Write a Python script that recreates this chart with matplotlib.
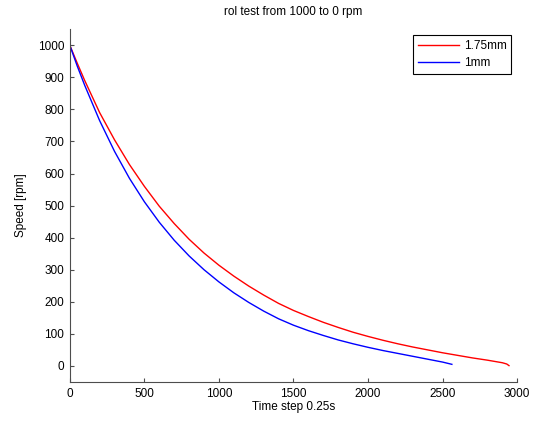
import numpy as np
import matplotlib
matplotlib.use('Agg')
import matplotlib.pyplot as plt

plt.rcParams['font.family'] = ['Liberation Sans', 'DejaVu Sans']
plt.rcParams['font.size'] = 8.5

# red curve, 1.75mm
t_red = [0, 50, 100, 200, 300, 400, 500, 600, 700, 800, 900, 1000, 1100, 1200, 1300,
         1400, 1500, 1600, 1700, 1800, 1900, 2000, 2100, 2200, 2300, 2400, 2500,
         2600, 2700, 2800, 2900, 2930, 2945]
v_red = [1000, 944, 890, 790, 705, 628, 560, 498, 444, 395, 352, 314, 280, 249, 221,
         195, 173, 154, 136, 120, 105, 92, 80, 69, 59, 50, 41,
         33, 25, 18, 10, 6, 1]

# blue curve, 1mm
t_blue = [0, 50, 100, 200, 300, 400, 500, 600, 700, 800, 900, 1000, 1100, 1200, 1300,
          1400, 1500, 1600, 1700, 1800, 1900, 2000, 2100, 2200, 2300, 2400, 2500,
          2562]
v_blue = [1000, 935, 875, 765, 669, 585, 512, 448, 392, 343, 300, 262, 228, 198, 171,
          147, 127, 110, 95, 81, 69, 58, 48, 39, 30, 21, 12,
          5]

fig = plt.figure(figsize=(5.41, 4.23), dpi=100)
ax = fig.add_axes([0.129, 0.097, 0.827, 0.834])

ax.plot(t_red, v_red, color='red', lw=1.0, label='1.75mm')
ax.plot(t_blue, v_blue, color='blue', lw=1.0, label='1mm')

ax.set_xlim(0, 3000)
ax.set_ylim(-50, 1050)
ax.set_xticks(np.arange(0, 3001, 500))
ax.set_yticks(np.arange(0, 1001, 100))

for s in ['top', 'right']:
    ax.spines[s].set_visible(False)
for s in ['left', 'bottom']:
    ax.spines[s].set_color('#4d4d4d')
    ax.spines[s].set_linewidth(0.8)
ax.tick_params(direction='in', length=3, width=0.8, color='#4d4d4d', labelsize=8.5, pad=4)

ax.set_title('rol test from 1000 to 0 rpm', fontsize=8.5, pad=10)
ax.set_xlabel('Time step 0.25s', labelpad=1)
ax.set_ylabel('Speed [rpm]', labelpad=8)

leg = ax.legend(loc='upper right', fancybox=False, edgecolor='black', framealpha=1,
                handlelength=3.5, handletextpad=0.4, labelspacing=0.45,
                borderaxespad=0.5, borderpad=0.4)
leg.get_frame().set_linewidth(0.8)

fig.savefig('out.png', dpi=100)
